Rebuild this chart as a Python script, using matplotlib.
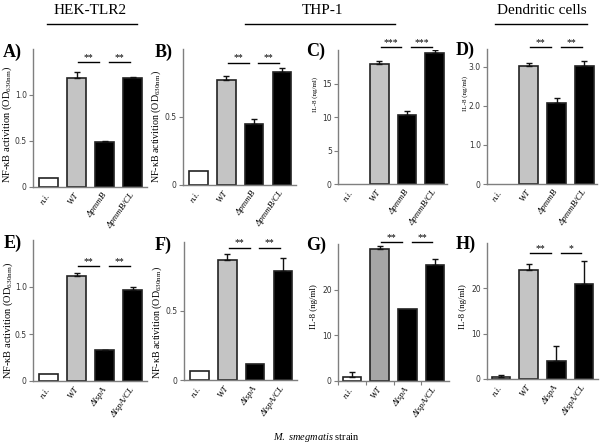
import numpy as np
import matplotlib
matplotlib.use('Agg')
import matplotlib.pyplot as plt
from matplotlib.lines import Line2D

plt.rcParams['font.family'] = ['Liberation Serif', 'DejaVu Serif']
plt.rcParams['mathtext.fontset'] = 'custom'
plt.rcParams['mathtext.rm'] = 'Liberation Serif'
plt.rcParams['mathtext.it'] = 'Liberation Serif:italic'

# --- data ---
cats_pmmB = ['n.i.', 'WT', 'ΔpmmB', 'ΔpmmB/CL']
cats_lspA = ['n.i.', 'WT', 'ΔlspA', 'ΔlspA/CL']

hek_pmmB = [0.10, 1.19, 0.49, 1.19]
hek_pmmB_err = [0, 0.065, 0.01, 0.01]
thp_nfkb_pmmB = [0.10, 0.773, 0.45, 0.83]
thp_nfkb_pmmB_err = [0, 0.027, 0.035, 0.03]
thp_il8_pmmB = [0, 17.9, 10.3, 19.55]
thp_il8_pmmB_err = [0, 0.4, 0.55, 0.5]
dc_il8_pmmB = [0, 3.02, 2.08, 3.02]
dc_il8_pmmB_err = [0, 0.07, 0.13, 0.13]

hek_lspA = [0.074, 1.117, 0.33, 0.965]
hek_lspA_err = [0, 0.03, 0.003, 0.04]
thp_nfkb_lspA = [0.065, 0.87, 0.115, 0.793]
thp_nfkb_lspA_err = [0, 0.043, 0, 0.092]
thp_il8_lspA = [0.9, 28.8, 15.8, 25.3]
thp_il8_lspA_err = [1.1, 0.8, 0, 1.5]
dc_il8_lspA = [0.45, 24.0, 3.9, 21.0]
dc_il8_lspA_err = [0.45, 1.3, 3.3, 5.1]

# significance brackets: (height, stars1, stars2)
sig = {
    'A': (1.36, '**', '**'), 'B': (0.90, '**', '**'),
    'C': (20.4, '***', '***'), 'D': (3.51, '**', '**'),
    'E': (1.22, '**', '**'), 'F': (0.96, '**', '**'),
    'G': (30.4, '**', '**'), 'H': (27.8, '**', '*'),
}

W, H = 603, 446
fig = plt.figure(figsize=(W / 100, H / 100), dpi=100)


def px_axes(l, t, r, b):
    return fig.add_axes([l / W, 1 - b / H, (r - l) / W, (b - t) / H])


def fig_xy(x, y):
    return x / W, 1 - y / H


GREY = '#7f7f7f'
bar_colors = ['white', '#c4c4c4', 'black', 'black']
NFKB = 'NF-κB activition (OD$_{\\mathrm{630nm}}$)'

panels = [
    # key, rect(px), cats, vals, errs, ylim, ticks, ticklabels, ylabel, ylab_fs, ylab_pos, xlim, wt color
    ('A', (33, 49, 147, 187), cats_pmmB, hek_pmmB, hek_pmmB_err, 1.5, [0, 0.5, 1.0], ['0', '0.5', '1.0'],
     NFKB, 7.5, (-0.165, 0.45), (-0.55, 3.5), '#c4c4c4'),
    ('B', (183, 49, 296, 185), cats_pmmB, thp_nfkb_pmmB, thp_nfkb_pmmB_err, 1.0, [0, 0.5], ['0', '0.5'],
     NFKB, 7.2, (-0.175, 0.43), (-0.55, 3.5), '#c4c4c4'),
    ('C', (338, 50, 447, 184), cats_pmmB, thp_il8_pmmB, thp_il8_pmmB_err, 20, [0, 5, 10, 15], ['0', '5', '10', '15'],
     'IL-8 (ng/ml)', 5, (-0.18, 0.67), (-0.5, 3.45), '#c4c4c4'),
    ('D', (487, 49, 597, 184), cats_pmmB, dc_il8_pmmB, dc_il8_pmmB_err, 3.45, [0, 1, 2, 3], ['0', '1.0', '2.0', '3.0'],
     'IL-8 (ng/ml)', 5, (-0.17, 0.67), (-0.5, 3.45), '#c4c4c4'),
    ('E', (33, 240, 147, 381), cats_lspA, hek_lspA, hek_lspA_err, 1.5, [0, 0.5, 1.0], ['0', '0.5', '1.0'],
     NFKB, 7.5, (-0.16, 0.43), (-0.55, 3.5), '#c4c4c4'),
    ('F', (184, 242, 297, 380), cats_lspA, thp_nfkb_lspA, thp_nfkb_lspA_err, 1.0, [0, 0.5], ['0', '0.5'],
     NFKB, 7.2, (-0.175, 0.42), (-0.55, 3.5), '#c4c4c4'),
    ('G', (338, 244, 449, 381), cats_lspA, thp_il8_lspA, thp_il8_lspA_err, 30, [0, 10, 20], ['0', '10', '20'],
     'IL-8 (ng/ml)', 6.5, (-0.18, 0.54), (-0.5, 3.5), '#a6a6a6'),
    ('H', (487, 243, 598, 379), cats_lspA, dc_il8_lspA, dc_il8_lspA_err, 30, [0, 10, 20], ['0', '10', '20'],
     'IL-8 (ng/ml)', 6.5, (-0.18, 0.53), (-0.5, 3.5), '#c4c4c4'),
]

label_pos = {'A': (3, 52), 'B': (155, 52), 'C': (306, 51), 'D': (456, 50),
             'E': (4, 243), 'F': (155, 245), 'G': (306, 245), 'H': (456, 244)}

for key, rect, cats, vals, errs, ytop, ticks, tlabels, ylab, yfs, ypos, xlim, wt_col in panels:
    ax = px_axes(*rect)
    x = np.arange(len(cats))
    vals = np.asarray(vals, dtype=float)
    errs = np.asarray(errs, dtype=float)
    cols = list(bar_colors)
    cols[1] = wt_col
    lws = [1.2 if v > 0 else 0 for v in vals]
    ax.bar(x, vals, width=0.67, color=cols, edgecolor='#222222', linewidth=lws, zorder=2)
    m = errs > 0
    ax.errorbar(x[m], vals[m], yerr=[np.zeros(m.sum()), errs[m]], fmt='none', ecolor='#111111',
                elinewidth=1.0, capsize=2.5, capthick=1.0, zorder=3)
    ax.set_xlim(*xlim)
    ax.set_ylim(0, ytop)
    ax.set_yticks(ticks)
    ax.set_yticklabels(tlabels, family='DejaVu Sans', fontsize=5.5, color='#333333')
    ax.set_xticks(x)
    ax.set_xticklabels(cats, rotation=55, ha='right', va='center', rotation_mode='anchor',
                       fontstyle='italic', fontsize=6.5)
    ax.tick_params(axis='x', length=0, pad=5)
    ax.tick_params(axis='y', length=3, width=0.8, color=GREY, pad=1.5)
    if key == 'G':
        ax.set_xticks([-0.5, 0.5, 1.5, 2.5], minor=True)
        ax.tick_params(axis='x', which='minor', length=3, width=0.8, color=GREY)
    for s in ['top', 'right']:
        ax.spines[s].set_visible(False)
    for s in ['left', 'bottom']:
        ax.spines[s].set_color(GREY)
        ax.spines[s].set_linewidth(1.0)
    ax.set_ylabel(ylab, fontsize=yfs)
    ax.yaxis.set_label_coords(*ypos)

    h, s1, s2 = sig[key]
    for (x0, x1), st in zip([(1.05, 1.8), (2.15, 2.9)], [s1, s2]):
        ax.plot([x0, x1], [h, h], color='black', lw=1.0, clip_on=False)
        ax.text((x0 + x1) / 2, h, st, ha='center', va='bottom', fontsize=7, clip_on=False)

    lx, ly = label_pos[key]
    fig.text(*fig_xy(lx, ly), key + ')', fontsize=13, fontweight='bold', ha='left', va='center')

# group headers
headers = [('HEK-TLR2', 90, 47, 137), ('THP-1', 322, 245, 395), ('Dendritic cells', 542, 495, 587)]
for name, cx, x0, x1 in headers:
    fig.text(*fig_xy(cx, 11), name, fontsize=11, ha='center', va='center')
    (fx0, fy), (fx1, _) = fig_xy(x0, 24), fig_xy(x1, 24)
    fig.add_artist(Line2D([fx0, fx1], [fy, fy], color='black', lw=1.0))

fig.text(*fig_xy(316, 438), '$\\mathit{M.\\ smegmatis}$ strain', fontsize=7.5, ha='center', va='center')

fig.savefig('out.png', dpi=100)
